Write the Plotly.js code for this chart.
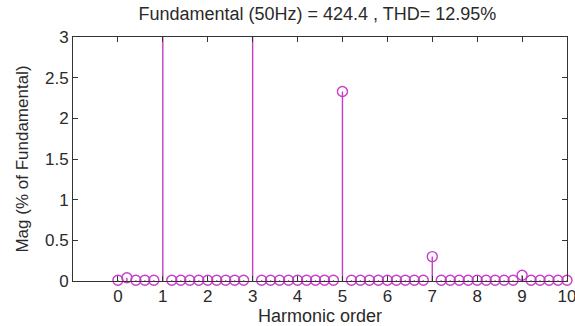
<!DOCTYPE html>
<html>
<head>
<meta charset="utf-8">
<script src="https://cdn.plot.ly/plotly-3.0.1.min.js"></script>
<style>
  html, body { margin: 0; padding: 0; background: #fff; }
  #chart { width: 575px; height: 326px; }
</style>
</head>
<body>
<div id="chart"></div>
<script>
// Harmonic orders (0.2 resolution, 10 Hz bins of a 50 Hz fundamental)
const harmonicOrder = [
  0, 0.2, 0.4, 0.6, 0.8, 1, 1.2, 1.4, 1.6, 1.8,
  2, 2.2, 2.4, 2.6, 2.8, 3, 3.2, 3.4, 3.6, 3.8,
  4, 4.2, 4.4, 4.6, 4.8, 5, 5.2, 5.4, 5.6, 5.8,
  6, 6.2, 6.4, 6.6, 6.8, 7, 7.2, 7.4, 7.6, 7.8,
  8, 8.2, 8.4, 8.6, 8.8, 9, 9.2, 9.4, 9.6, 9.8,
  10
];
// Magnitude in % of fundamental
const magPercent = [
  0.01, 0.04, 0.01, 0.01, 0.01, 100, 0.01, 0.01, 0.01, 0.01,
  0.01, 0.01, 0.01, 0.01, 0.01, 12.73, 0.01, 0.01, 0.01, 0.01,
  0.01, 0.01, 0.01, 0.01, 0.01, 2.33, 0.01, 0.01, 0.01, 0.01,
  0.01, 0.01, 0.01, 0.01, 0.01, 0.30, 0.01, 0.01, 0.01, 0.01,
  0.01, 0.01, 0.01, 0.01, 0.01, 0.07, 0.01, 0.01, 0.01, 0.01,
  0.01
];
const xTicks = [0, 1, 2, 3, 4, 5, 6, 7, 8, 9, 10];
const yTicks = [0, 0.5, 1, 1.5, 2, 2.5, 3];
const yTickText = ['0', '0.5', '1', '1.5', '2', '2.5', '3'];

const stemColor = 'rgb(200,60,200)';
const textColor = '#2a2a2a';

// Stem lines: one segment from 0 to the value per harmonic bin
const stemX = [], stemY = [];
harmonicOrder.forEach((h, i) => {
  stemX.push(h, h, null);
  stemY.push(0, magPercent[i], null);
});

const stems = {
  type: 'scatter', mode: 'lines',
  x: stemX, y: stemY,
  line: { color: stemColor, width: 1.4 },
  hoverinfo: 'skip', showlegend: false, cliponaxis: true
};
const heads = {
  type: 'scatter', mode: 'markers',
  x: harmonicOrder, y: magPercent,
  marker: { symbol: 'circle-open', size: 10, color: stemColor, line: { width: 1.4, color: stemColor } },
  showlegend: false, cliponaxis: false
};

const fontFam = '"Liberation Sans", Arial, sans-serif';
const layout = {
  width: 575, height: 326,
  margin: { l: 73, r: 8, t: 37, b: 45 },
  paper_bgcolor: '#fff', plot_bgcolor: '#fff',
  font: { family: fontFam, size: 18, color: textColor },
  title: {
    text: 'Fundamental (50Hz) = 424.4 , THD= 12.95%',
    font: { family: fontFam, size: 18, color: textColor },
    x: 0.552, xanchor: 'center', y: 0.958, yanchor: 'middle'
  },
  xaxis: {
    range: [-1, 10], tickvals: xTicks, ticktext: xTicks.map(String),
    ticks: 'inside', ticklen: 5, tickcolor: '#333', tickwidth: 1,
    showline: true, linecolor: '#333', linewidth: 1, mirror: 'ticks',
    showgrid: false, zeroline: false, ticklabeloverflow: 'allow',
    tickfont: { size: 17, color: textColor },
    title: { text: 'Harmonic order', font: { size: 18, color: textColor }, standoff: 0 }
  },
  yaxis: {
    range: [0, 3], tickvals: yTicks, ticktext: yTickText,
    ticks: 'inside', ticklen: 5, tickcolor: '#333', tickwidth: 1,
    showline: true, linecolor: '#333', linewidth: 1, mirror: 'ticks',
    showgrid: false, zeroline: false, ticklabeloverflow: 'allow',
    tickfont: { size: 17, color: textColor },
    title: { text: 'Mag (% of Fundamental)', font: { size: 17, color: textColor }, standoff: 12 }
  }
};

Plotly.newPlot('chart', [stems, heads], layout, { staticPlot: true, displayModeBar: false });
</script>
</body>
</html>
